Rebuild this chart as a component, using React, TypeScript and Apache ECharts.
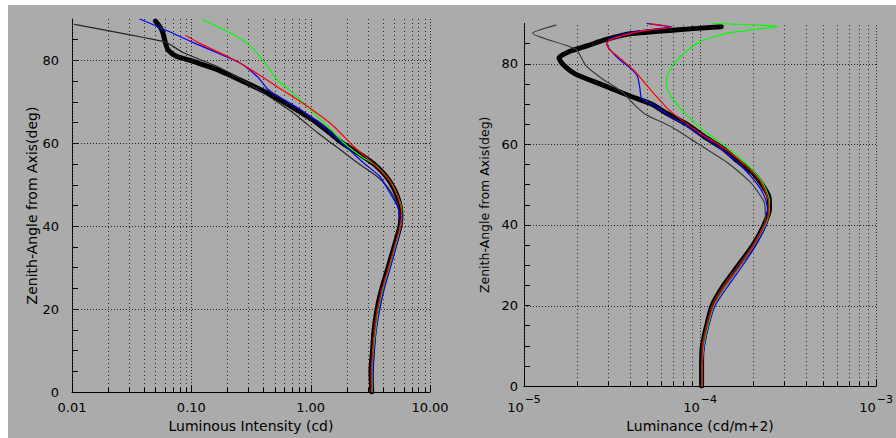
import React, { useEffect, useRef } from "react";
import * as echarts from "echarts";

// ---------- data: [angle (deg), value] ----------
// Left panel: Luminous Intensity (cd)
const L_THICK: [number, number][] = [
  [0, 3.25], [5, 3.2], [10, 3.3], [15, 3.4], [20, 3.6], [25, 3.95], [30, 4.45], [35, 5.0], [40, 5.6],
  [43, 5.7], [46, 5.5], [49, 5.0], [52, 4.3], [55, 3.4], [58, 2.4], [60, 1.85], [62.5, 1.45], [65, 1.12],
  [67.5, 0.82], [70, 0.59], [72.5, 0.41], [75, 0.27], [77.5, 0.174], [80, 0.098], [81, 0.075], [82.5, 0.064],
  [84, 0.061], [86.5, 0.058], [88, 0.055], [89.5, 0.05],
];
const L_THIN: [number, number][] = [
  [88.7, 0.0105], [84.6, 0.058], [83.9, 0.066], [81.9, 0.085], [78.6, 0.163], [75.5, 0.26], [72.2, 0.4],
  [67.4, 0.71], [62.5, 1.15], [57.8, 1.9], [55, 2.55], [52, 3.6], [49.5, 4.4], [46.5, 5.1], [44, 5.5],
  [41, 5.6], [38, 5.4], [35, 5.0], [30, 4.5], [25, 3.95], [20, 3.6], [15, 3.4], [10, 3.3], [5, 3.2], [0, 3.2],
];
const L_BLUE: [number, number][] = [
  [90, 0.037], [87, 0.065], [84.3, 0.104], [82, 0.16], [79.4, 0.256], [76, 0.36], [73, 0.44], [70.5, 0.6],
  [68.2, 0.815], [64.2, 1.27], [60, 1.85], [55.3, 2.77], [52, 3.8], [48.1, 4.6], [45, 5.3], [42.5, 5.6],
  [40, 5.7], [35, 5.2], [30, 4.65], [25, 4.15], [20, 3.8], [15, 3.55], [10, 3.4], [5, 3.35], [0, 3.3],
];
const L_RED: [number, number][] = [
  [86, 0.09], [84, 0.12], [81, 0.2], [78.2, 0.3], [74.2, 0.49], [69, 0.93], [64.2, 1.55], [59.3, 2.28],
  [56, 3.1], [53, 4.0], [50, 4.85], [47, 5.4], [44, 5.75], [41, 5.8], [38, 5.4], [35, 5.05], [30, 4.5],
  [25, 4.0], [20, 3.65], [15, 3.45], [10, 3.32], [5, 3.25], [0, 3.25],
];
const L_GREEN: [number, number][] = [
  [90, 0.122], [87, 0.2], [84.3, 0.29], [80, 0.4], [75.4, 0.52], [72, 0.72], [68.2, 0.99], [64, 1.4],
  [60.2, 1.88], [57, 2.6], [54.5, 3.58], [51, 4.6], [47, 5.4], [44, 5.8], [41, 5.75], [38, 5.45], [35, 5.1],
  [30, 4.55], [25, 4.05], [20, 3.7], [15, 3.5], [10, 3.35], [5, 3.27], [0, 3.27],
];

// Right panel: Luminance (cd/m2)
const R_THICK: [number, number][] = [
  [0, 1.02e-4], [5, 1.02e-4], [10, 1.03e-4], [15, 1.09e-4], [20, 1.17e-4], [25, 1.36e-4], [30, 1.65e-4],
  [35, 2.0e-4], [40, 2.31e-4], [44, 2.48e-4], [47, 2.46e-4], [50, 2.25e-4], [53, 1.98e-4], [56, 1.62e-4],
  [59, 1.35e-4], [62, 1.05e-4], [65, 8.4e-5], [68, 6.3e-5], [70, 5.3e-5], [72, 4.0e-5], [75, 2.7e-5],
  [77.5, 1.95e-5], [80, 1.65e-5], [81.5, 1.58e-5], [83, 1.8e-5], [84.5, 2.3e-5], [86, 2.9e-5],
  [87.5, 4.1e-5], [88.4, 7.2e-5], [89.2, 1.32e-4],
];
const R_THIN: [number, number][] = [
  [89.6, 1.52e-5], [87.6, 1.12e-5], [83.6, 1.97e-5], [79.6, 2.24e-5], [76.3, 2.78e-5], [73.1, 3.6e-5],
  [70, 4.2e-5], [67.5, 4.88e-5], [64.3, 6.9e-5], [60.2, 9.7e-5], [55.4, 1.44e-4], [50.5, 1.94e-4],
  [45.7, 2.31e-4], [42, 2.35e-4], [40, 2.3e-4], [35, 2.0e-4], [30, 1.65e-4], [25, 1.36e-4], [20, 1.17e-4],
  [10, 1.03e-4], [0, 1.02e-4],
];
const R_BLUE: [number, number][] = [
  [90, 5.0e-5], [89.6, 5.8e-5], [89.2, 6.9e-5], [88.6, 5.5e-5], [88, 4.3e-5], [87, 3.5e-5], [86, 3.05e-5],
  [85, 2.95e-5], [83, 3.15e-5], [81, 3.5e-5], [79, 4.0e-5], [77, 4.4e-5], [74, 4.55e-5], [71.5, 4.65e-5],
  [70, 5.3e-5], [67, 6.8e-5], [64, 8.8e-5], [61, 1.12e-4], [58, 1.4e-4], [55, 1.68e-4], [52, 1.95e-4],
  [49, 2.2e-4], [46, 2.37e-4], [43, 2.42e-4], [40, 2.38e-4], [35, 2.08e-4], [30, 1.75e-4], [25, 1.45e-4],
  [20, 1.22e-4], [15, 1.12e-4], [10, 1.06e-4], [5, 1.03e-4], [0, 1.03e-4],
];
const R_RED: [number, number][] = [
  [89.9, 5.2e-5], [89.5, 6.2e-5], [89, 6.8e-5], [88.3, 5.0e-5], [87.5, 4.0e-5], [86, 3.1e-5], [85, 2.95e-5],
  [83.6, 3.05e-5], [81, 3.6e-5], [78, 4.3e-5], [75, 4.9e-5], [72.3, 5.55e-5], [69, 6.5e-5], [66.7, 7.5e-5],
  [62.6, 1.02e-4], [59, 1.38e-4], [56, 1.68e-4], [53, 2.0e-4], [50, 2.26e-4], [46, 2.45e-4], [43, 2.46e-4],
  [40, 2.33e-4], [35, 2.02e-4], [30, 1.69e-4], [25, 1.39e-4], [20, 1.19e-4], [15, 1.1e-4], [10, 1.04e-4],
  [5, 1.03e-4], [0, 1.03e-4],
];
const R_GREEN: [number, number][] = [
  [90, 1.16e-4], [89.6, 2.2e-4], [89.2, 2.75e-4], [88.5, 2.0e-4], [87.5, 1.4e-4], [85.5, 1.0e-4],
  [83, 8.3e-5], [80, 7.1e-5], [77, 6.5e-5], [74.5, 6.45e-5], [71, 7.1e-5], [67, 8.5e-5], [63, 1.08e-4],
  [59, 1.45e-4], [56, 1.75e-4], [53, 2.05e-4], [50, 2.3e-4], [46, 2.48e-4], [43, 2.47e-4], [40, 2.35e-4],
  [35, 2.03e-4], [30, 1.7e-4], [25, 1.4e-4], [20, 1.2e-4], [15, 1.11e-4], [10, 1.05e-4], [5, 1.03e-4],
  [0, 1.03e-4],
];

// ---------- axes ----------
const L_X_MAJOR = [0.01, 0.1, 1, 10];
const L_X_MINOR = [
  0.02, 0.03, 0.04, 0.05, 0.06, 0.07, 0.08, 0.09,
  0.2, 0.3, 0.4, 0.5, 0.6, 0.7, 0.8, 0.9,
  2, 3, 4, 5, 6, 7, 8, 9,
];
const R_X_MAJOR = [1e-5, 1e-4, 1e-3];
const R_X_MINOR = [
  2e-5, 3e-5, 4e-5, 5e-5, 6e-5, 7e-5, 8e-5, 9e-5,
  2e-4, 3e-4, 4e-4, 5e-4, 6e-4, 7e-4, 8e-4, 9e-4,
];
const Y_LABELS = [0, 20, 40, 60, 80];
const Y_GRID = [20, 40, 60, 80];
const Y_MIN = 0;
const Y_MAX = 90;

const FONT = "DejaVu Sans";
const BG = "#ababab";
const DOT = "#262626";

const toPts = (arr: [number, number][]) => arr.map(([a, v]) => [v, a]);

function vGridSeries(idx: number, major: number[], minor: number[]) {
  const data = [...major.map((v) => [v, 1]), ...minor.map((v) => [v, 0])];
  return {
    type: "custom",
    xAxisIndex: idx,
    yAxisIndex: idx,
    silent: true,
    clip: false,
    z: 1,
    data,
    renderItem: (params: any, api: any) => {
      const x = api.value(0);
      const isMajor = api.value(1) === 1;
      const p0 = api.coord([x, Y_MIN]);
      const p1 = api.coord([x, Y_MAX]);
      const xx = Math.round(p0[0]) + 0.5;
      return {
        type: "group",
        children: [
          {
            type: "line",
            shape: { x1: xx, y1: p0[1], x2: xx, y2: p1[1] },
            style: { stroke: DOT, lineWidth: 1, lineDash: isMajor ? [1, 2] : [1, 3] },
          },
          {
            type: "line",
            shape: { x1: xx, y1: p0[1], x2: xx, y2: p0[1] - (isMajor ? 7 : 4) },
            style: { stroke: "#000", lineWidth: 1 },
          },
        ],
      };
    },
  };
}

function hGridSeries(idx: number, xmin: number, xmax: number) {
  return {
    type: "custom",
    xAxisIndex: idx,
    yAxisIndex: idx,
    silent: true,
    clip: false,
    z: 1,
    data: Y_GRID.map((y) => [xmin, y]),
    renderItem: (params: any, api: any) => {
      const y = api.value(1);
      const p0 = api.coord([xmin, y]);
      const p1 = api.coord([xmax, y]);
      const yy = Math.round(p0[1]) + 0.5;
      return {
        type: "line",
        shape: { x1: p0[0], y1: yy, x2: p1[0], y2: yy },
        style: { stroke: DOT, lineWidth: 1, lineDash: [1, 2] },
      };
    },
  };
}

function lineSeries(idx: number, data: [number, number][], color: string, width: number, z: number) {
  return {
    type: "line",
    xAxisIndex: idx,
    yAxisIndex: idx,
    data: toPts(data),
    showSymbol: false,
    symbol: "none",
    smooth: 0.2,
    z,
    lineStyle: { color, width, cap: "round", join: "round" },
  };
}

const yAxisBase = (idx: number, margin: number, nameGap: number, nameSize: number) => ({
  type: "value",
  gridIndex: idx,
  min: Y_MIN,
  max: Y_MAX,
  interval: 5,
  name: "Zenith-Angle from Axis(deg)",
  nameLocation: "middle",
  nameGap,
  nameTextStyle: { fontFamily: FONT, fontSize: nameSize, color: "#000" },
  axisLine: { show: true, lineStyle: { color: "#000", width: 1 } },
  axisTick: { show: true, inside: true, length: 6, lineStyle: { color: "#000" } },
  axisLabel: {
    show: true,
    margin,
    fontFamily: FONT,
    fontSize: 13,
    color: "#000",
    showMaxLabel: false,
    formatter: (v: number) => (Y_LABELS.indexOf(Math.round(v)) >= 0 && Math.abs(v - Math.round(v)) < 1e-6 ? String(Math.round(v)) : ""),
  },
  splitLine: { show: false },
});

export default function App() {
  const ref = useRef<HTMLDivElement>(null);
  useEffect(() => {
    if (!ref.current) return;
    const chart = echarts.init(ref.current, undefined, { renderer: "svg" });
    const option: any = {
      animation: false,
      backgroundColor: BG,
      grid: [
        { left: 64, top: 14, width: 358, height: 374 },
        { left: 516, top: 18.5, width: 355, height: 372 },
      ],
      xAxis: [
        {
          type: "log",
          logBase: 10,
          gridIndex: 0,
          min: L_X_MAJOR[0],
          max: L_X_MAJOR[L_X_MAJOR.length - 1],
          interval: 1,
          name: "Luminous Intensity (cd)",
          nameLocation: "middle",
          nameGap: 27,
          nameTextStyle: { fontFamily: FONT, fontSize: 14, color: "#000" },
          axisLine: { show: true, lineStyle: { color: "#000", width: 1 } },
          axisTick: { show: false },
          axisLabel: {
            margin: 9,
            fontFamily: FONT,
            fontSize: 13,
            color: "#000",
            formatter: (v: number) => v.toFixed(2),
          },
          splitLine: { show: false },
        },
        {
          type: "log",
          logBase: 10,
          gridIndex: 1,
          min: R_X_MAJOR[0],
          max: R_X_MAJOR[R_X_MAJOR.length - 1],
          interval: 1,
          name: "Luminance (cd/m+2)",
          nameLocation: "middle",
          nameGap: 28,
          nameTextStyle: { fontFamily: FONT, fontSize: 14, color: "#000" },
          axisLine: { show: true, lineStyle: { color: "#000", width: 1 } },
          axisTick: { show: false },
          axisLabel: {
            margin: 6,
            fontFamily: FONT,
            color: "#000",
            formatter: (v: number) => `{b|10}{s|\u2212${Math.round(-Math.log10(v))}}`,
            rich: {
              b: { fontFamily: FONT, fontSize: 13, color: "#000", padding: [9, 0, 0, 0] },
              s: { fontFamily: FONT, fontSize: 11, color: "#000", padding: [0, 0, 7, 1] },
            },
          },
          splitLine: { show: false },
        },
      ],
      yAxis: [yAxisBase(0, 13, 32, 14), yAxisBase(1, 6, 33, 12.5)],
      series: [
        vGridSeries(0, L_X_MAJOR, L_X_MINOR),
        hGridSeries(0, L_X_MAJOR[0], L_X_MAJOR[L_X_MAJOR.length - 1]),
        vGridSeries(1, R_X_MAJOR, R_X_MINOR),
        hGridSeries(1, R_X_MAJOR[0], R_X_MAJOR[R_X_MAJOR.length - 1]),
        lineSeries(0, L_THICK, "#000000", 5, 3),
        lineSeries(0, L_THIN, "#262626", 1.2, 4),
        lineSeries(0, L_BLUE, "#0000ff", 1.2, 5),
        lineSeries(0, L_GREEN, "#00ff00", 1.2, 6),
        lineSeries(0, L_RED, "#ff0000", 1.2, 7),
        lineSeries(1, R_THICK, "#000000", 5, 3),
        lineSeries(1, R_THIN, "#3a3a3a", 1.2, 4),
        lineSeries(1, R_BLUE, "#0000ff", 1.2, 5),
        lineSeries(1, R_GREEN, "#00ff00", 1.2, 6),
        lineSeries(1, R_RED, "#ff0000", 1.2, 7),
      ],
    };
    chart.setOption(option);
    return () => chart.dispose();
  }, []);
  return (
    <div
      ref={ref}
      style={{ position: "absolute", left: 8, top: 5, width: 888, height: 433 }}
    />
  );
}
